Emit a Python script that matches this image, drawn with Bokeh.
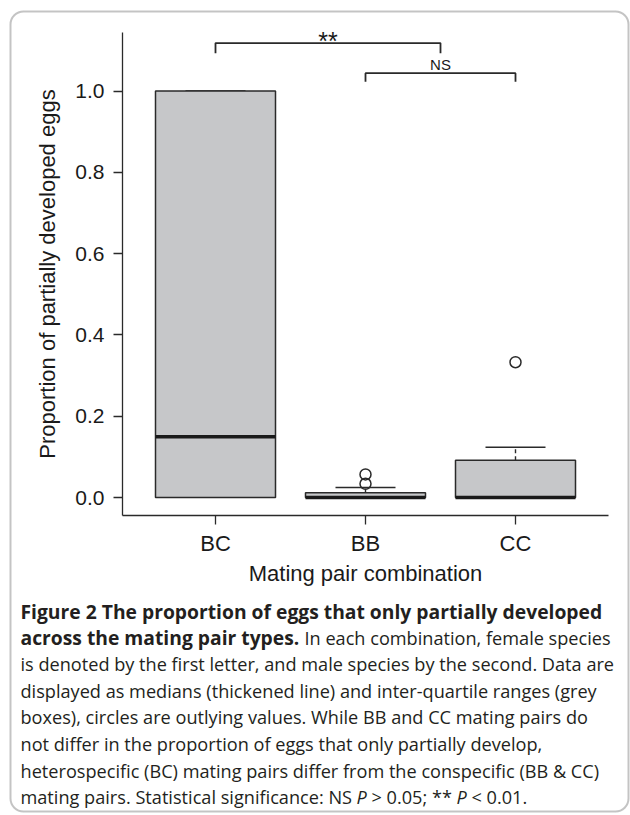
from bokeh.plotting import figure
from bokeh.models import Range1d, FixedTicker, Label, ColumnDataSource, BoxAnnotation
from bokeh.core.properties import value
from bokeh.embed import file_html
from bokeh.resources import INLINE
import math

# ---------------- data ----------------
categories = ["BC", "BB", "CC"]
box_q1 = [0.0, 0.0, 0.0]
box_median = [0.15, 0.0, 0.0]
box_q3 = [1.0, 0.012, 0.092]
whisker_high = [1.0, 0.025, 0.124]
outlier_group = ["BB", "BB", "CC"]
outlier_value = [0.034, 0.057, 0.333]

y_ticks = [0.0, 0.2, 0.4, 0.6, 0.8, 1.0]
y_tick_labels = ["0.0", "0.2", "0.4", "0.6", "0.8", "1.0"]

sig_text = ["**", "NS"]
sig_from = [["BC"], ["BB"]]
sig_to = [["BB", "CC"], ["CC"]]
sig_level = [1.118, 1.044]
sig_drop = [0.025, 0.021]

x_title = "Mating pair combination"
y_title = "Proportion of partially developed eggs"

caption_lines = [
    [("Figure 2 The proportion of eggs that only partially developed", "bold", 20)],
    [("across the mating pair types.", "bold", 20), ("In each combination, female species", "normal", 304)],
    [("is denoted by the first letter, and male species by the second. Data are", "normal", 20)],
    [("displayed as medians (thickened line) and inter-quartile ranges (grey", "normal", 20)],
    [("boxes), circles are outlying values. While BB and CC mating pairs do", "normal", 20)],
    [("not differ in the proportion of eggs that only partially develop,", "normal", 20)],
    [("heterospecific (BC) mating pairs differ from the conspecific (BB & CC)", "normal", 20)],
    [("mating pairs. Statistical significance: NS", "normal", 20), ("P", "italic", 356),
     ("> 0.05; **", "normal", 371), ("P", "italic", 456), ("< 0.01.", "normal", 471)],
]

# ---------------- layout (page pixels) ----------------
W, H = 630, 813
PL, PR, PT, PB = 122, 608, 32, 515   # plot area in page pixels
XR = (0.38, 3.62)
YR = (-0.044, 1.144)
kx = (XR[1] - XR[0]) / (PR - PL)
ky = (YR[1] - YR[0]) / (PB - PT)


def dy(py):
    return YR[0] + (PB - py) * ky


p = figure(width=W, height=H, output_backend="svg", toolbar_location=None, title=None,
           x_range=Range1d(XR[0] - PL * kx, XR[1] + (W - PR) * kx),
           y_range=Range1d(YR[0] - (H - PB) * ky, YR[1] + PT * ky),
           min_border=0)
p.extra_x_ranges = {"px": Range1d(0, W)}
p.extra_y_ranges = {"px": Range1d(H, 0)}
p.outline_line_color = None
p.xgrid.visible = False
p.ygrid.visible = False
p.background_fill_color = "white"
p.border_fill_color = "white"

pos = {c: i + 1 for i, c in enumerate(categories)}
xs = [pos[c] for c in categories]
BOXW = 0.4
CAPW = 0.2
LINE = "#2a2a2a"

src = ColumnDataSource(dict(x=xs, q1=box_q1, med=box_median, q3=box_q3, wh=whisker_high,
                            l=[x - BOXW for x in xs], r=[x + BOXW for x in xs],
                            cl=[x - CAPW for x in xs], cr=[x + CAPW for x in xs]))

p.segment(x0="x", x1="x", y0="q3", y1="wh", source=src, line_color=LINE, line_width=1.4,
          line_dash="4 3")
p.segment(x0="cl", x1="cr", y0="wh", y1="wh", source=src, line_color=LINE, line_width=1.5)
p.quad(left="l", right="r", bottom="q1", top="q3", source=src, fill_color="#c6c7c9",
       line_color=LINE, line_width=1.5)
p.segment(x0="l", x1="r", y0="med", y1="med", source=src, line_color="#1a1a1a", line_width=3.5)

p.scatter(x=[pos[g] for g in outlier_group], y=outlier_value, marker="circle", size=11,
          fill_alpha=0, line_color=LINE, line_width=1.5)

# significance brackets
mids = []
for a, b, lvl, drop in zip(sig_from, sig_to, sig_level, sig_drop):
    xa = sum(pos[c] for c in a) / len(a)
    xb = sum(pos[c] for c in b) / len(b)
    mids.append((xa + xb) / 2)
    p.line(x=[xa, xa, xb, xb], y=[lvl - drop, lvl, lvl, lvl - drop], line_color=LINE, line_width=1.8)

p.add_layout(Label(x=mids[0], y=dy(40), text=sig_text[0], text_align="center",
                   text_baseline="middle", text_font="Liberation Sans", text_font_size="25px",
                   text_color="#1a1a1a"))
p.add_layout(Label(x=mids[1], y=dy(64), text=sig_text[1], text_align="center",
                   text_baseline="middle", text_font="Liberation Sans", text_font_size="15px",
                   text_color="#1a1a1a"))

# axes (drawn at the edges of the plot area)
p.xaxis.fixed_location = YR[0]
p.yaxis.fixed_location = XR[0]
p.xaxis.bounds = XR
p.yaxis.bounds = YR
p.xaxis.ticker = FixedTicker(ticks=xs)
p.xaxis.major_label_overrides = {x: c for x, c in zip(xs, categories)}
p.yaxis.ticker = FixedTicker(ticks=y_ticks)
p.yaxis.major_label_overrides = {t: s for t, s in zip(y_ticks, y_tick_labels)}
for ax in (p.xaxis[0], p.yaxis[0]):
    ax.axis_line_color = LINE
    ax.axis_line_width = 1.3
    ax.major_tick_line_color = LINE
    ax.major_tick_line_width = 1.3
    ax.major_tick_in = 0
    ax.major_tick_out = 9
    ax.minor_tick_line_color = None
    ax.major_label_text_font = "Liberation Sans"
    ax.major_label_text_color = "#1a1a1a"
p.xaxis.major_label_text_font_size = "22px"
p.yaxis.major_label_text_font_size = "21px"
p.xaxis.major_label_standoff = 6
p.yaxis.major_label_standoff = 9

# axis titles
p.text(x=[(PL + PR) / 2], y=[573], text=[x_title], x_range_name="px", y_range_name="px",
       text_align="center", text_baseline="middle", text_font=value("Liberation Sans"),
       text_font_size="22px", text_color="#1a1a1a")
p.text(x=[47], y=[(PT + PB) / 2], text=[y_title], x_range_name="px", y_range_name="px",
       angle=math.pi / 2, text_align="center", text_baseline="middle",
       text_font=value("Liberation Sans"), text_font_size="22px", text_color="#1a1a1a")

# caption
base0, step = 616.0, 26.6
sizes = {"normal": "18.15px", "bold": "19.3px", "italic": "18.15px"}
for style in ("normal", "bold", "italic"):
    tx, ty, tt = [], [], []
    for i, pieces in enumerate(caption_lines):
        for text, st, px in pieces:
            if st == style:
                tx.append(px)
                ty.append(base0 + i * step - 5.5)
                tt.append(text)
    if tt:
        p.text(x=tx, y=ty, text=tt, x_range_name="px", y_range_name="px",
               text_align="left", text_baseline="middle",
               text_font=value("Open Sans"), text_font_size=sizes[style], text_font_style=style,
               text_color="#231f20")

# rounded frame around the figure
p.add_layout(BoxAnnotation(left=10, right=628, top=11, bottom=811, x_range_name="px",
                           y_range_name="px", fill_alpha=0, line_color="#3a3a3a",
                           line_width=2, border_radius=13))

open("out.html", "w").write(file_html(p, INLINE))
